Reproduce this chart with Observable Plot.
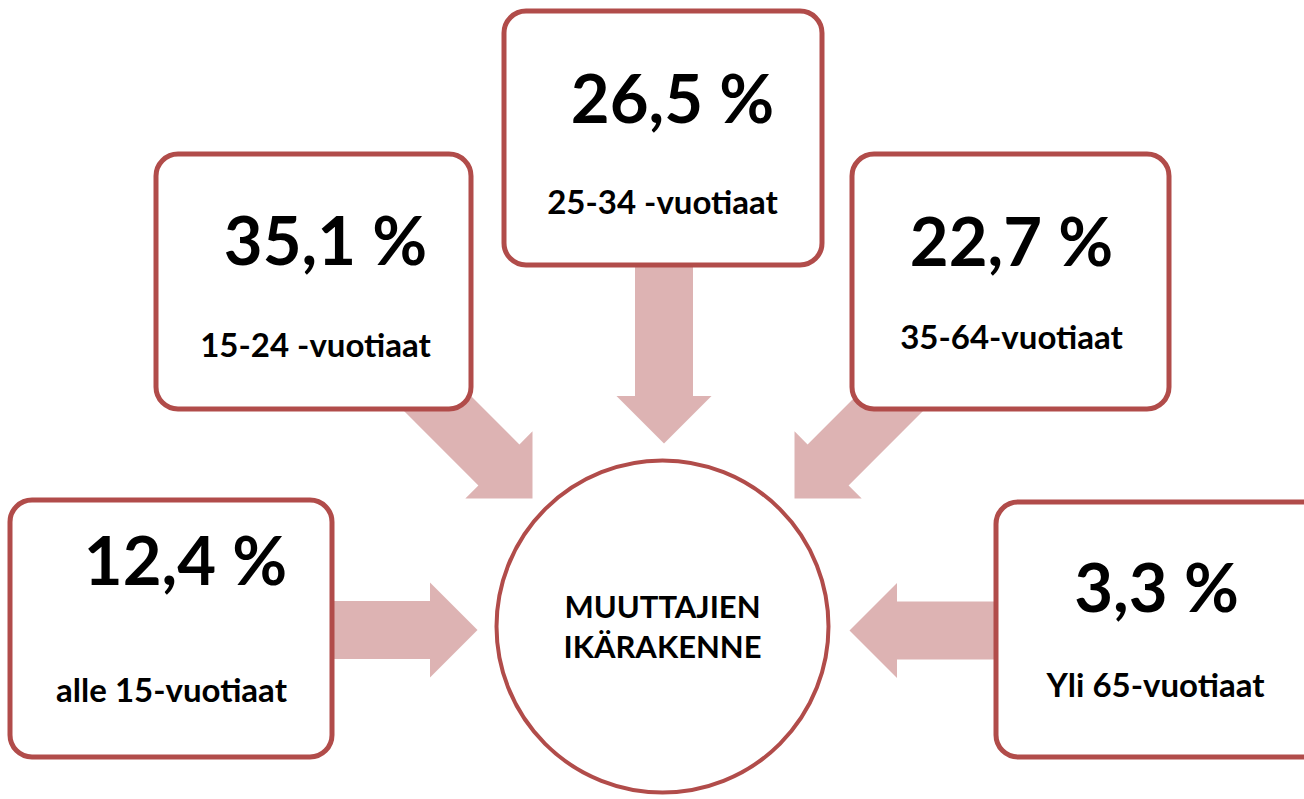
<!DOCTYPE html>
<html>
<head>
<meta charset="utf-8">
<script src="https://cdn.jsdelivr.net/npm/d3@7"></script>
<script src="https://cdn.jsdelivr.net/npm/@observablehq/plot@0.6"></script>
<style>
  html, body { margin: 0; padding: 0; background: #ffffff; overflow: hidden; }
  #chart svg { display: block; }
</style>
</head>
<body>
<div id="chart"></div>
<script>
// ---- data ----
const groups = ["alle 15-vuotiaat", "15-24 -vuotiaat", "25-34 -vuotiaat", "35-64-vuotiaat", "Yli 65-vuotiaat"];
const shares = [12.4, 35.1, 26.5, 22.7, 3.3];
const centerLines = ["MUUTTAJIEN", "IKÄRAKENNE"];

// ---- layout (diagram positions, pixel space) ----
const boxes = [ // x1, y1, x2, y2
  [10, 500, 332, 757],
  [156, 154, 471, 409],
  [504, 11, 822, 265],
  [852, 154, 1169, 409],
  [996, 502, 1330, 757]
];
const valuePos = [[185, 563], [325, 243], [672, 101], [1011, 244], [1156, 590]];
const labelPos = [[171, 691], [315, 346], [662, 203], [1011, 338], [1155, 686]];
const arrowEnds = [ // start (hidden behind box), tip
  [[300, 629.5], [477, 629.5]],
  [[414, 380], [532, 498]],
  [[663.5, 240], [663.5, 443]],
  [[912, 380], [794, 498]],
  [[1020, 630], [849, 630]]
];
const circleCenter = [662, 626];

const boxStroke = "#b14c4a";
const arrowFill = "#ddb3b3";
const font = "Lato, 'Open Sans', sans-serif";

const fmt = v => d3.format(".1f")(v).replace(".", ",") + " %";

// arrow polygons
function arrowPoly([S, T], id) {
  const dx = T[0] - S[0], dy = T[1] - S[1];
  const len = Math.hypot(dx, dy);
  const ux = dx / len, uy = dy / len;
  const nx = -uy, ny = ux;
  const L = 47.5, hw = 47.5, sw = 29;
  const B = [T[0] - ux * L, T[1] - uy * L];
  const pts = [
    [S[0] + nx * sw, S[1] + ny * sw],
    [B[0] + nx * sw, B[1] + ny * sw],
    [B[0] + nx * hw, B[1] + ny * hw],
    T,
    [B[0] - nx * hw, B[1] - ny * hw],
    [B[0] - nx * sw, B[1] - ny * sw],
    [S[0] - nx * sw, S[1] - ny * sw]
  ];
  return pts.map(([x, y]) => ({x, y, id}));
}
const arrowPts = arrowEnds.flatMap((a, i) => arrowPoly(a, i));

const boxData = groups.map((g, i) => ({
  group: g, value: shares[i],
  x1: boxes[i][0], y1: boxes[i][1], x2: boxes[i][2], y2: boxes[i][3],
  vx: valuePos[i][0], vy: valuePos[i][1],
  lx: labelPos[i][0], ly: labelPos[i][1]
}));

const chart = Plot.plot({
  width: 1304,
  height: 799,
  margin: 0,
  x: {domain: [0, 1304], range: [0, 1304], axis: null},
  y: {domain: [0, 799], range: [0, 799], axis: null},
  style: {background: "#ffffff", fontFamily: font},
  marks: [
    Plot.line(arrowPts, {x: "x", y: "y", z: "id", fill: arrowFill, stroke: "none"}),
    Plot.dot([circleCenter], {x: d => d[0], y: d => d[1], r: 166, fill: "#ffffff", stroke: boxStroke, strokeWidth: 4}),
    Plot.rect(boxData, {x1: "x1", x2: "x2", y1: "y1", y2: "y2", rx: 22, fill: "#ffffff", stroke: boxStroke, strokeWidth: 5}),
    Plot.text(boxData, {x: "vx", y: "vy", text: d => fmt(d.value), fontSize: 67, fontWeight: 700, fill: "#000000", textAnchor: "middle", lineAnchor: "middle", fontFamily: font}),
    Plot.text(boxData, {x: "lx", y: "ly", text: "group", fontSize: 33, fontWeight: 700, fill: "#000000", textAnchor: "middle", lineAnchor: "middle", fontFamily: font}),
    Plot.text(centerLines, {x: () => circleCenter[0], y: (d, i) => circleCenter[1] - 18 + i * 40, text: d => d, fontSize: 31, fontWeight: 700, fill: "#000000", textAnchor: "middle", lineAnchor: "middle", fontFamily: font})
  ]
});
document.getElementById("chart").appendChild(chart);
</script>
</body>
</html>
